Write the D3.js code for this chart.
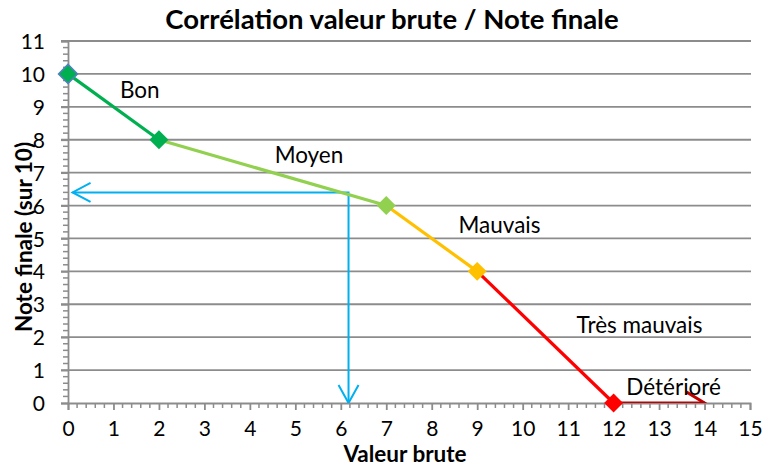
<!DOCTYPE html>
<html><head><meta charset="utf-8">
<script src="https://cdn.jsdelivr.net/npm/d3@7"></script>
<style>body{margin:0;background:#fff}svg{display:block}text{font-family:Lato,"Open Sans",sans-serif;fill:#000}</style>
</head><body><svg id="c" width="768" height="467"></svg>
<script>
// ---- data ----
const title = "Corrélation valeur brute / Note finale";
const xTitle = "Valeur brute";
const yTitle = "Note finale (sur 10)";
const xTickValues = d3.range(0, 16);
const yTickValues = d3.range(0, 12);
const pointX = [0, 2, 7, 9, 12];
const pointY = [10, 8, 6, 4, 0];
const segmentColors = ["#00b050", "#92d050", "#ffc000", "#ff0000"];
const markerColors = ["#00b050", "#00b050", "#92d050", "#ffc000", "#ff0000"];
const extensionX = [12, 14];
const extensionY = [0, 0];
const readingX = 6.17;
const readingY = 6.4;
const readingArrowEndX = 0.1;
const labelTexts = ["Bon", "Moyen", "Mauvais", "Très mauvais", "Détérioré"];
const labelX = [1.58, 5.3, 9.49, 12.57, 13.32];
const labelY = [9.27, 7.3, 5.18, 2.12, 0.24];

// ---- layout ----
const svg = d3.select("#c");
const L = 68, R = 750, T = 41, B = 403;
const x = d3.scaleLinear().domain([0, 15]).range([L, R]);
const y = d3.scaleLinear().domain([0, 11]).range([B, T]);
const grid = "#8c8c8c";

svg.append("defs").append("clipPath").attr("id", "plot")
  .append("rect").attr("x", L).attr("y", T - 5).attr("width", R - L + 5).attr("height", B - T + 5);

// gridlines
svg.append("g").selectAll("line").data(yTickValues.filter(d => d > 0)).join("line")
  .attr("x1", L - 7).attr("x2", R + 1).attr("y1", d => y(d)).attr("y2", d => y(d))
  .attr("stroke", grid).attr("stroke-width", 1.8);

// minor ticks
const minorX = d3.range(0, 15.001, 0.2).filter(d => Math.abs(d - Math.round(d)) > 1e-6);
const minorY = d3.range(0, 11.001, 0.2).filter(d => Math.abs(d - Math.round(d)) > 1e-6);
svg.append("g").selectAll("line").data(minorX).join("line")
  .attr("x1", d => x(d)).attr("x2", d => x(d)).attr("y1", B).attr("y2", B + 5)
  .attr("stroke", grid).attr("stroke-width", 1.5);
svg.append("g").selectAll("line").data(minorY).join("line")
  .attr("y1", d => y(d)).attr("y2", d => y(d)).attr("x1", L).attr("x2", L - 5)
  .attr("stroke", grid).attr("stroke-width", 1.5);

// axes
const xAxis = svg.append("g").attr("transform", `translate(0,${B})`)
  .call(d3.axisBottom(x).tickValues(xTickValues).tickFormat(d3.format("d")).tickSize(7).tickPadding(12));
const yAxis = svg.append("g").attr("transform", `translate(${L},0)`)
  .call(d3.axisLeft(y).tickValues(yTickValues).tickFormat(d3.format("d")).tickSize(7).tickPadding(16));
[xAxis, yAxis].forEach(a => {
  a.select(".domain").attr("stroke", grid).attr("stroke-width", 1.8);
  a.selectAll(".tick line").attr("stroke", grid).attr("stroke-width", 1.8);
  a.selectAll(".tick text").attr("font-size", 21).style("font-family", "Lato").attr("fill", "#000");
});
xAxis.selectAll(".tick text").attr("dy", "0.68em");
yAxis.selectAll(".tick text").attr("x", -23).attr("dy", "0.36em");

// reading arrows (blue)
const plot = svg.append("g").attr("clip-path", "url(#plot)");
const blue = "#00b0f0";
plot.append("path")
  .attr("d", d3.line()([[x(readingArrowEndX), y(readingY)], [x(readingX), y(readingY)], [x(readingX), y(0)]]))
  .attr("fill", "none").attr("stroke", blue).attr("stroke-width", 2);
plot.append("path")
  .attr("d", d3.line()([[x(readingArrowEndX) + 18, y(readingY) - 9.5], [x(readingArrowEndX), y(readingY)], [x(readingArrowEndX) + 18, y(readingY) + 9.5]]))
  .attr("fill", "none").attr("stroke", blue).attr("stroke-width", 2);
plot.append("path")
  .attr("d", d3.line()([[x(readingX) - 10, y(0) - 18], [x(readingX), y(0)], [x(readingX) + 10, y(0) - 18]]))
  .attr("fill", "none").attr("stroke", blue).attr("stroke-width", 2);

// extension arrow (dark red)
const darkRed = "#c00000";
plot.append("line")
  .attr("x1", x(extensionX[0])).attr("x2", x(extensionX[1]))
  .attr("y1", y(extensionY[0])).attr("y2", y(extensionY[1]))
  .attr("stroke", darkRed).attr("stroke-width", 3);
plot.append("path")
  .attr("d", d3.line()([[x(extensionX[1]) - 18, y(extensionY[1]) - 11], [x(extensionX[1]), y(extensionY[1])], [x(extensionX[1]) - 18, y(extensionY[1]) + 11]]))
  .attr("fill", "none").attr("stroke", darkRed).attr("stroke-width", 3);

// series segments
const segs = d3.range(pointX.length - 1).map(i => ({ i, a: [pointX[i], pointY[i]], b: [pointX[i + 1], pointY[i + 1]] }));
svg.append("g").selectAll("line").data(segs).join("line")
  .attr("x1", d => x(d.a[0])).attr("y1", d => y(d.a[1]))
  .attr("x2", d => x(d.b[0])).attr("y2", d => y(d.b[1]))
  .attr("stroke", d => segmentColors[d.i]).attr("stroke-width", 3.2);

// markers
const diamond = d3.symbol().type(d3.symbolSquare).size(180);
svg.append("g").selectAll("path").data(pointX.map((d, i) => i)).join("path")
  .attr("d", diamond)
  .attr("transform", i => `translate(${x(pointX[i])},${y(pointY[i])}) rotate(45)`)
  .attr("fill", i => markerColors[i])
  .attr("stroke", i => i === 0 ? "#4f81bd" : "none").attr("stroke-width", 1.5);

// labels
svg.append("g").selectAll("text").data(labelTexts).join("text")
  .attr("x", (d, i) => x(labelX[i])).attr("y", (d, i) => y(labelY[i]))
  .attr("text-anchor", "middle").attr("font-size", 22.5).text(d => d);

// titles
svg.append("text").attr("x", 392).attr("y", 29).attr("text-anchor", "middle")
  .attr("font-size", 27.5).attr("font-weight", "bold").text(title);
svg.append("text").attr("x", 405).attr("y", 462).attr("text-anchor", "middle")
  .attr("font-size", 22.5).attr("font-weight", "bold").text(xTitle);
svg.append("text").attr("transform", "translate(32,237) rotate(-90)").attr("text-anchor", "middle")
  .attr("font-size", 22.5).attr("font-weight", "bold").text(yTitle);
</script></body></html>
